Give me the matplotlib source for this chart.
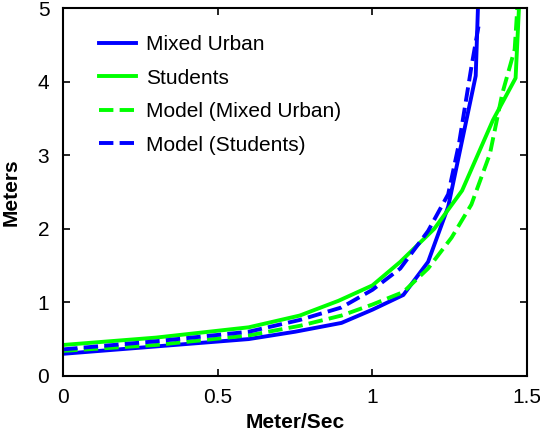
import matplotlib
matplotlib.use("Agg")
import matplotlib.pyplot as plt

plt.rcParams["font.family"] = ["Liberation Sans", "DejaVu Sans"]

# measured curves: speed (m/s) vs distance (m)
mixed_x = [0.0, 0.3, 0.6, 0.75, 0.9, 1.0, 1.1, 1.18, 1.245, 1.334, 1.342]
mixed_y = [0.30, 0.40, 0.50, 0.60, 0.72, 0.90, 1.10, 1.55, 2.30, 4.08, 5.1]

stud_x = [0.0, 0.3, 0.6, 0.765, 0.89, 1.0, 1.09, 1.2, 1.29, 1.39, 1.463, 1.475]
stud_y = [0.42, 0.52, 0.66, 0.82, 1.02, 1.23, 1.55, 2.0, 2.52, 3.48, 4.05, 5.1]

# model curves
model_mixed_x = [0.0, 0.3, 0.6, 0.765, 0.9, 1.0, 1.1, 1.18, 1.256, 1.32, 1.38, 1.42, 1.46, 1.47]
model_mixed_y = [0.34, 0.42, 0.55, 0.68, 0.82, 0.97, 1.14, 1.46, 1.88, 2.33, 3.02, 3.84, 4.44, 5.1]

model_stud_x = [0.0, 0.3, 0.6, 0.765, 0.9, 1.0, 1.09, 1.18, 1.245, 1.28, 1.32, 1.345]
model_stud_y = [0.36, 0.47, 0.60, 0.76, 0.93, 1.17, 1.46, 1.97, 2.47, 3.16, 4.2, 4.8]

fig = plt.figure(figsize=(5.4, 4.32), dpi=100)
ax = fig.add_axes([0.117, 0.13, 0.859, 0.851])

ax.plot(mixed_x, mixed_y, color="#0000ff", lw=2.8, label="Mixed Urban")
ax.plot(stud_x, stud_y, color="#00ff00", lw=2.8, label="Students")
ax.plot(model_mixed_x, model_mixed_y, color="#00ff00", lw=2.8, ls="--", label="Model (Mixed Urban)")
ax.plot(model_stud_x, model_stud_y, color="#0000ff", lw=2.8, ls="--", label="Model (Students)")

ax.set_xlim(0, 1.5)
ax.set_ylim(0, 5)
ax.set_xticks([0, 0.5, 1, 1.5])
ax.set_xticklabels(["0", "0.5", "1", "1.5"])
ax.set_yticks([0, 1, 2, 3, 4, 5])
ax.tick_params(direction="in", top=True, right=True, length=5, width=1.2, labelsize=15)
ax.tick_params(axis="x", pad=9)
ax.tick_params(axis="y", pad=10)
for s in ax.spines.values():
    s.set_linewidth(1.5)

ax.set_xlabel("Meter/Sec", fontsize=15, fontweight="bold", labelpad=4)
ax.set_ylabel("Meters", fontsize=15, fontweight="bold", labelpad=12)

ax.legend(loc="upper left", frameon=False, fontsize=15, handlelength=1.75,
          handletextpad=0.5, borderaxespad=0.0, bbox_to_anchor=(0.06, 0.95),
          labelspacing=0.7)

fig.savefig("out.png", dpi=100)
